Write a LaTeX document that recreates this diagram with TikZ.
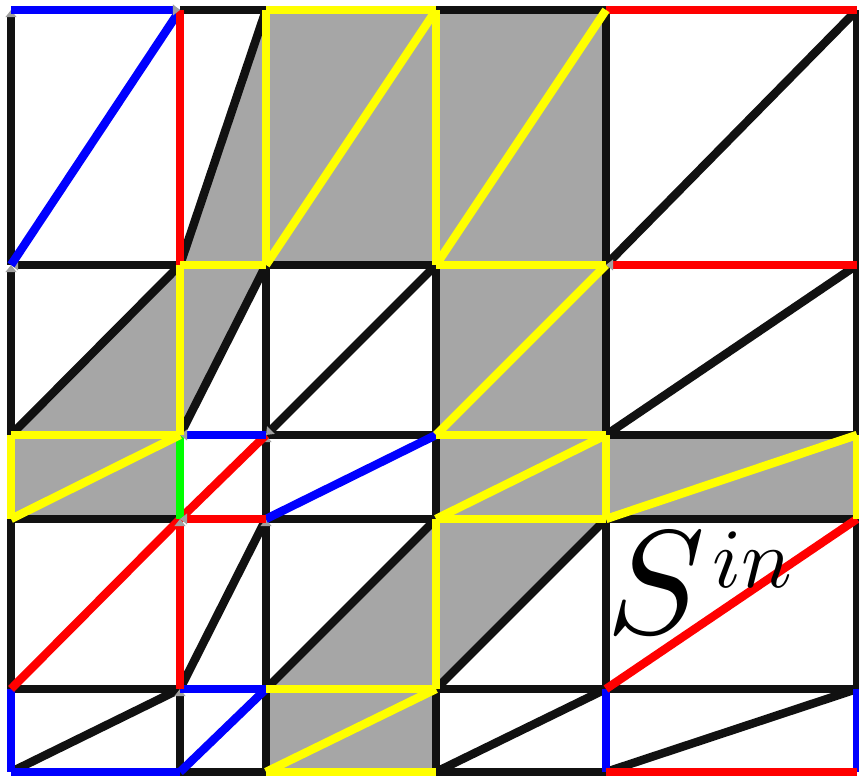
\documentclass[tikz,border=0pt]{standalone}
\usepackage{graphicx}
\usetikzlibrary{arrows.meta}
\definecolor{cblue}{HTML}{0000FF}
\definecolor{cred}{HTML}{FF0000}
\definecolor{cyellow}{HTML}{FFFF00}
\definecolor{cgreen}{HTML}{00FF00}
\definecolor{cgrey}{HTML}{A6A6A6}
\definecolor{cblack}{HTML}{111111}
\definecolor{ctip}{HTML}{A0A0A0}
\tikzset{
  every picture/.style={line width=2.4pt},
  mline/.style={draw=#1, line width=2.4pt},
  mline/.default=cblack,
  face/.style={fill=cgrey, draw=none},
  dtip/.style={-{Triangle[length=2pt, width=3pt, color=ctip]}},
  meshlabel/.style={inner sep=0pt, anchor=base west},
}
\begin{document}
\begin{tikzpicture}
  \useasboundingbox (0,0) rectangle (8.59,7.77);
  % mesh vertices
  \foreach \i/\x in {0/0.11,1/1.80,2/2.66,3/4.36,4/6.06,5/8.57}
    \foreach \j/\y in {0/7.67,1/5.12,2/3.42,3/2.58,4/0.88,5/0.05}
      \coordinate (v\i\j) at (\x,\y);
  % shaded faces
  \fill[face] (v11) -- (v20) -- (v21) -- cycle;
  \fill[face] (v20) rectangle (v41);
  \fill[face] (v02) -- (v11) -- (v21) -- (v12) -- cycle;
  \fill[face] (v31) rectangle (v42);
  \fill[face] (v02) rectangle (v13);
  \fill[face] (v32) rectangle (v53);
  \fill[face] (v24) -- (v33) -- (v43) -- (v34) -- cycle;
  \fill[face] (v24) rectangle (v35);
  % black edges
  \foreach \a/\b in {v10/v20,v30/v40,v21/v31,v22/v32,v42/v52,v03/v13,v23/v33,v43/v53,
                     v04/v14,v34/v44,v44/v54,v15/v25,v35/v45,
                     v03/v04,v21/v22,v24/v25,v31/v32,v32/v33,v34/v35,
                     v40/v41,v41/v42,v43/v44,v50/v51,v51/v52,v53/v54,
                     v11/v20,v41/v50,v02/v11,v12/v21,v42/v51,v14/v23,v24/v33,
                     v34/v43,v05/v14,v35/v44,v45/v54}
    \draw[mline] (\a) -- (\b);
  % directed black edges
  \foreach \a/\b in {v11/v01,v01/v00,v02/v01,v15/v14,v23/v22,v24/v23,v31/v22}
    \draw[mline, dtip] (\a) -- (\b);
  % coloured edges
  \foreach \a/\b/\c in {v01/v10/cblue,v23/v32/cblue,v14/v24/cblue,v04/v05/cblue,
                        v44/v45/cblue,v54/v55/cblue,v15/v24/cblue,v05/v15/cblue,
                        v40/v50/cred,v10/v11/cred,v13/v22/cred,v04/v13/cred,
                        v44/v53/cred,v45/v55/cred,v12/v13/cgreen}
    \draw[mline=\c] (\a) -- (\b);
  \foreach \a/\b/\c in {v00/v10/cblue,v22/v12/cblue,v51/v41/cred,v23/v13/cred,v14/v13/cred}
    \draw[mline=\c, dtip] (\a) -- (\b);
  % boundary of the shaded region
  \foreach \a/\b in {v20/v30,v11/v21,v31/v41,v02/v12,v32/v42,v33/v43,v24/v34,v25/v35,
                     v20/v21,v30/v31,v11/v12,v02/v03,v42/v43,v52/v53,v33/v34,
                     v21/v30,v31/v40,v32/v41,v03/v12,v33/v42,v43/v52,v25/v34}
    \draw[mline=cyellow] (\a) -- (\b);
  \node[meshlabel] (sin) at (6.02,1.43)
    {\scalebox{4.2}{$S$}\kern2pt\raisebox{13.1pt}{\scalebox{2.4}{$in$}}};
\end{tikzpicture}
\end{document}
